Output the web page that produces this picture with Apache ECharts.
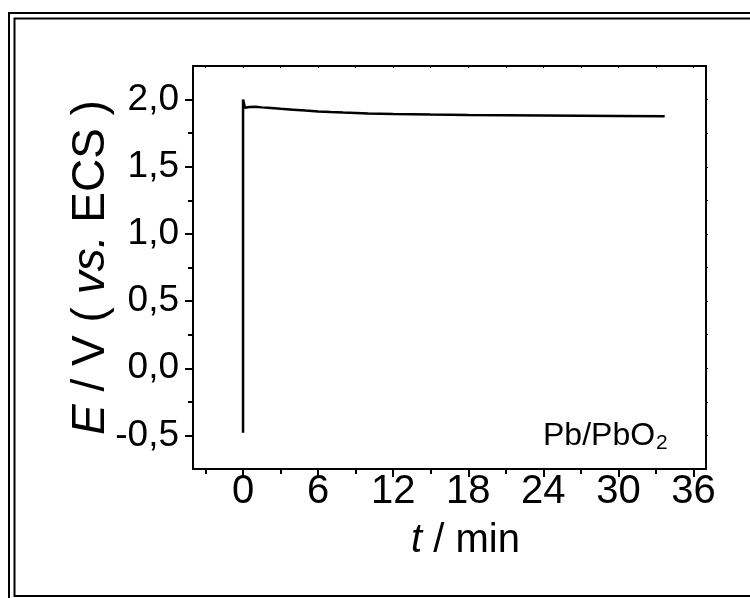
<!DOCTYPE html>
<html>
<head>
<meta charset="utf-8">
<script src="https://cdn.jsdelivr.net/npm/echarts@6/dist/echarts.min.js"></script>
<style>
html,body{margin:0;padding:0;background:#fff;}
#c{width:750px;height:598px;}
</style>
</head>
<body>
<div id="c"></div>
<script>
// Data (t in min, E in V vs. ECS)
const tValues = [0, 0, 0.15, 0.5, 1, 1.5, 2, 3, 4, 5, 6, 7, 8, 10, 12, 15, 18, 21, 24, 27, 30, 33.7];
const eValues = [-0.48, 2.0, 1.94, 1.945, 1.947, 1.942, 1.94, 1.932, 1.925, 1.918, 1.912, 1.907, 1.903, 1.897, 1.893, 1.889, 1.886, 1.884, 1.882, 1.880, 1.878, 1.876];
const xTicks = [0, 6, 12, 18, 24, 30, 36];
const xMinorTicks = [-3, 3, 9, 15, 21, 27, 33];
const yTicks = [-0.5, 0, 0.5, 1, 1.5, 2];
const yMinorTicks = [-0.25, 0.25, 0.75, 1.25, 1.75];
const xRange = [-4, 37];
const yRange = [-0.75, 2.25];

const FONT = 'Liberation Sans';
const chart = echarts.init(document.getElementById('c'), null, {renderer: 'canvas'});
const data = tValues.map((t, i) => [t, eValues[i]]);
const fmtY = v => v.toFixed(1).replace('.', ',');
const lineStyle = {color: '#000', width: 2};

const option = {
  backgroundColor: '#fff',
  animation: false,
  grid: {left: 193, top: 66, right: 44, bottom: 129},
  xAxis: [
    {
      type: 'value', min: xRange[0], max: xRange[1], position: 'bottom',
      axisLine: {show: true, onZero: false, lineStyle},
      axisTick: {show: true, inside: false, length: 8, lineStyle, customValues: xTicks},
      axisLabel: {show: true, customValues: xTicks, fontFamily: FONT, fontSize: 40, color: '#000', margin: 3},
      splitLine: {show: false},
      name: '{i|t} / min', nameLocation: 'middle', nameGap: 52, nameMoveOverlap: false,
      nameTextStyle: {fontFamily: FONT, fontSize: 40, color: '#000', padding: [0, 0, 0, 32],
        rich: {i: {fontStyle: 'italic', fontFamily: FONT, fontSize: 40, color: '#000'}}}
    },
    {
      type: 'value', min: xRange[0], max: xRange[1], position: 'bottom', offset: 0,
      axisLine: {show: false, onZero: false},
      axisTick: {show: true, inside: false, length: 5, lineStyle, customValues: xMinorTicks},
      axisLabel: {show: false}, splitLine: {show: false}
    },
    {
      type: 'value', min: xRange[0], max: xRange[1], position: 'top', offset: 0,
      axisLine: {show: true, onZero: false, lineStyle},
      axisTick: {show: true, inside: true, length: 2, lineStyle: {color: '#000', width: 1}, customValues: xTicks.concat(xMinorTicks)},
      axisLabel: {show: false}, splitLine: {show: false}
    }
  ],
  yAxis: [
    {
      type: 'value', min: yRange[0], max: yRange[1], position: 'left',
      axisLine: {show: true, onZero: false, lineStyle},
      axisTick: {show: true, inside: false, length: 8, lineStyle, customValues: yTicks},
      axisLabel: {show: true, customValues: yTicks, formatter: fmtY, fontFamily: FONT, fontSize: 37, color: '#000', margin: 14},
      splitLine: {show: false},
      name: '{i|E} / V ( {i|vs.} ECS )', nameLocation: 'middle', nameRotate: 90, nameGap: 79, nameMoveOverlap: false,
      nameTextStyle: {fontFamily: FONT, fontSize: 46, color: '#000',
        rich: {i: {fontStyle: 'italic', fontFamily: FONT, fontSize: 46, color: '#000'}}}
    },
    {
      type: 'value', min: yRange[0], max: yRange[1], position: 'left', offset: 0,
      axisLine: {show: false, onZero: false},
      axisTick: {show: true, inside: false, length: 5, lineStyle, customValues: yMinorTicks},
      axisLabel: {show: false}, splitLine: {show: false}
    },
    {
      type: 'value', min: yRange[0], max: yRange[1], position: 'right', offset: 0,
      axisLine: {show: true, onZero: false, lineStyle},
      axisTick: {show: true, inside: false, length: 2, lineStyle: {color: '#000', width: 1}, customValues: yTicks.concat(yMinorTicks)},
      axisLabel: {show: false}, splitLine: {show: false}
    }
  ],
  series: [{
    type: 'line', xAxisIndex: 0, yAxisIndex: 0, data: data,
    showSymbol: false, symbol: 'none', smooth: false,
    lineStyle: {color: '#000', width: 2.5}
  }],
  graphic: [
    {type: 'rect', shape: {x: 9, y: 13, width: 800, height: 700}, style: {fill: 'none', stroke: '#000', lineWidth: 2}, silent: true},
    {type: 'rect', shape: {x: 14.5, y: 18.5, width: 800, height: 577.5}, style: {fill: 'none', stroke: '#000', lineWidth: 2}, silent: true},
    {type: 'text', left: 543, top: 420, style: {text: 'Pb/PbO', fontFamily: FONT, fontSize: 32, fill: '#000'}},
    {type: 'text', left: 656, top: 433, style: {text: '2', fontFamily: FONT, fontSize: 21, fill: '#000'}}
  ]
};
chart.setOption(option);
</script>
</body>
</html>
